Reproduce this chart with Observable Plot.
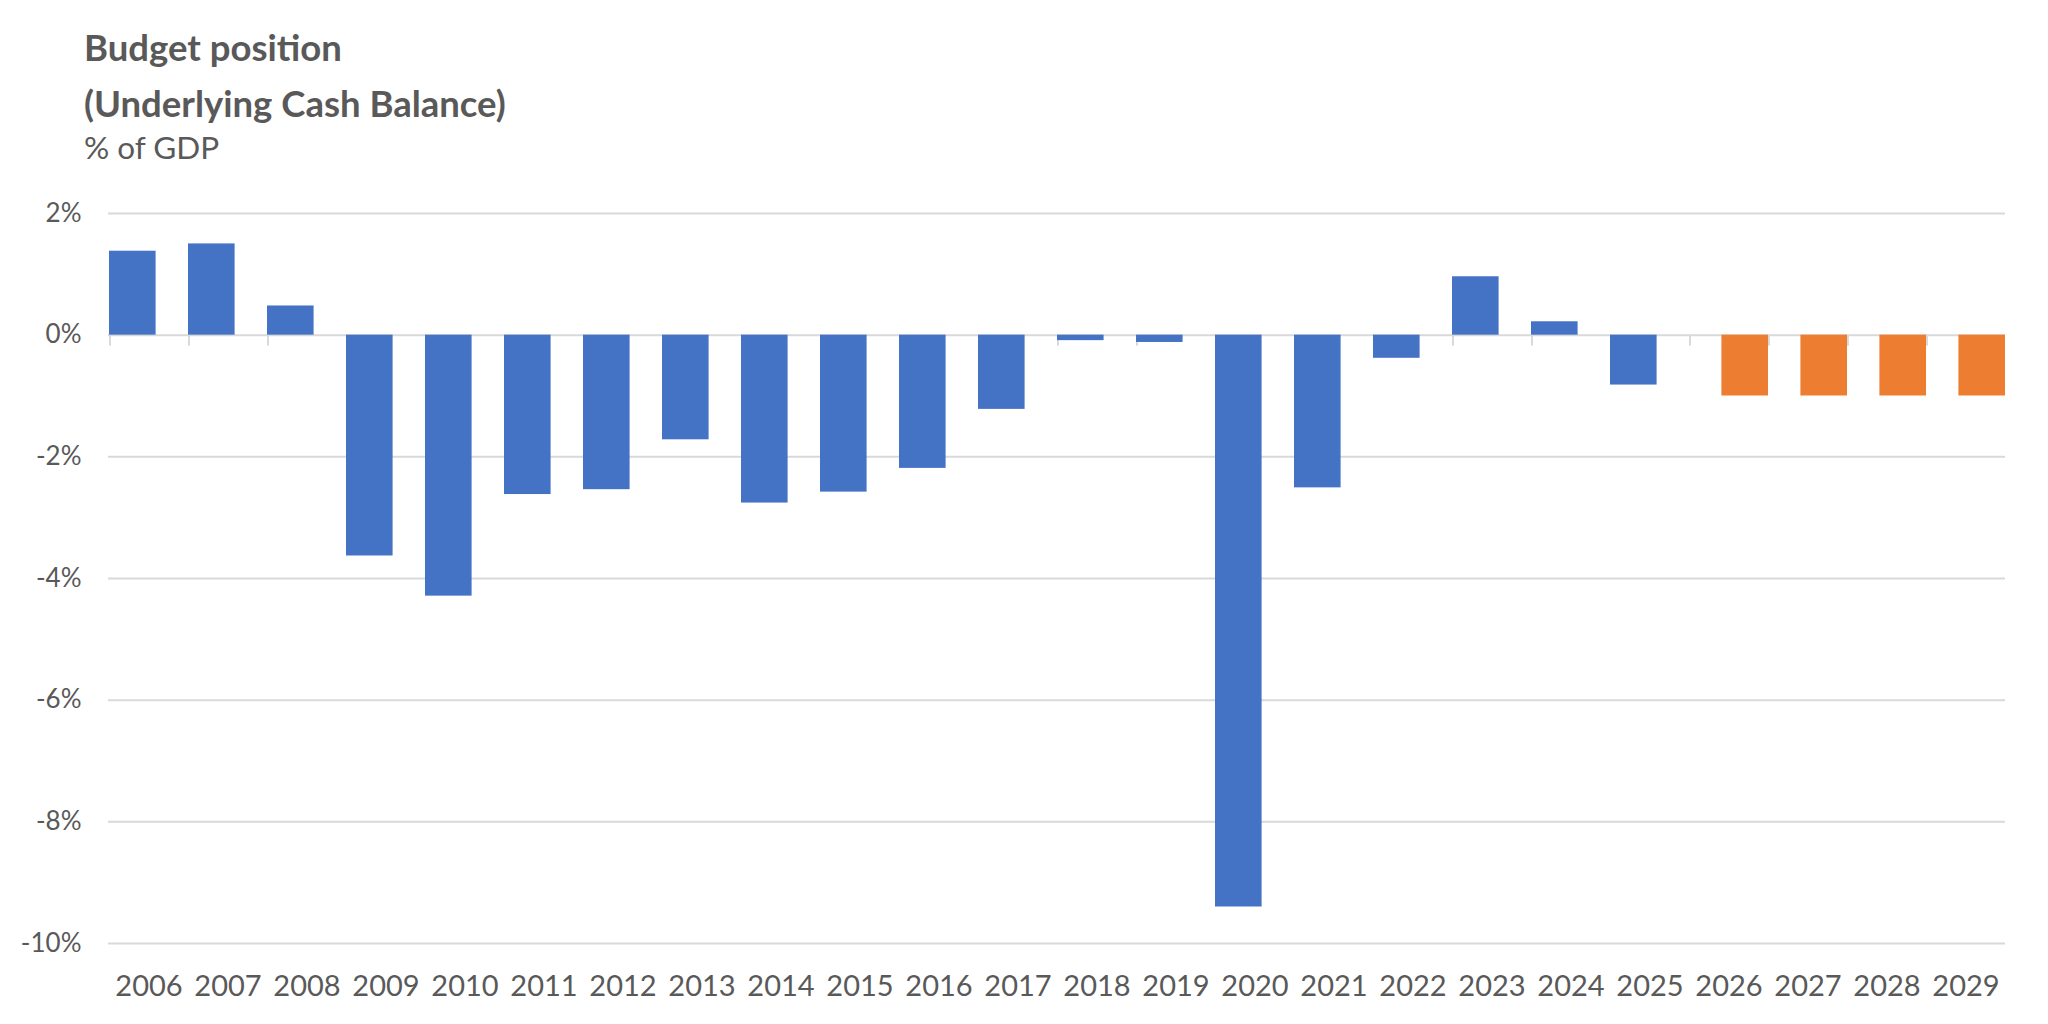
<!DOCTYPE html>
<html><head><meta charset="utf-8">
<script src="https://cdn.jsdelivr.net/npm/d3@7"></script>
<script src="https://cdn.jsdelivr.net/npm/@observablehq/plot@0.6"></script>
<style>
body{margin:0;background:#fff;}
#wrap{position:relative;width:2048px;height:1024px;font-family:Lato,sans-serif;color:#595959;overflow:hidden;}
.t{position:absolute;left:84px;line-height:1;white-space:nowrap;}
</style></head><body>
<div id="wrap">
<div class="t" style="top:29px;font-size:36.5px;font-weight:700">Budget position</div>
<div class="t" style="top:85px;font-size:36.5px;font-weight:700">(Underlying Cash Balance)</div>
<div class="t" style="top:132px;font-size:31.5px">% of GDP</div>
<div id="chart" style="position:absolute;left:0;top:175px"></div>
</div>
<script>
const years = [2006,2007,2008,2009,2010,2011,2012,2013,2014,2015,2016,2017,2018,2019,2020,2021,2022,2023,2024,2025,2026,2027,2028,2029].map(String);
const actualYears = years.slice(0, 20);
const actualValues = [1.38,1.50,0.48,-3.63,-4.29,-2.62,-2.54,-1.72,-2.76,-2.58,-2.19,-1.22,-0.09,-0.12,-9.40,-2.51,-0.38,0.96,0.22,-0.82];
const projectionYears = years.slice(20);
const projectionValues = [-1.0,-1.0,-1.0,-1.0];
const yTicks = [-10,-8,-6,-4,-2,0,2];

const actual = actualYears.map((year, i) => ({year, value: actualValues[i]}));
const projection = projectionYears.map((year, i) => ({year, value: projectionValues[i]}));

const W = 2048, H = 849, ML = 108, MR = 43;
const step = (W - ML - MR) / years.length;
const barInset = step * 0.41;
const fmt = d => `${d}%`;

const chart = Plot.plot({
  width: W, height: H,
  marginTop: 38, marginBottom: 81, marginLeft: ML, marginRight: MR,
  style: {fontFamily: "Lato, sans-serif", color: "#595959", background: "#fff", overflow: "visible"},
  x: {type: "band", domain: years, padding: 0, label: null},
  y: {domain: [-10, 2], ticks: yTicks, label: null, tickFormat: fmt},
  marks: [
    Plot.gridY(yTicks, {stroke: "#d9d9d9", strokeOpacity: 1, strokeWidth: 2}),
    Plot.barY(years, {x: d => d, y1: 0, y2: 0, insetRight: step - 2, insetBottom: -11, fill: "#d9d9d9"}),
    Plot.barY(actual, {x: "year", y: "value", fill: "#4472C4", insetRight: barInset}),
    Plot.barY(projection, {x: "year", y: "value", fill: "#ED7D31", insetLeft: barInset}),
    Plot.axisY(yTicks, {tickSize: 0, tickPadding: 27, fontSize: 26, tickFormat: fmt, label: null}),
    Plot.axisX({tickSize: 0, tickPadding: 32, fontSize: 29, label: null})
  ]
});
document.getElementById("chart").appendChild(chart);
</script>
</body></html>
